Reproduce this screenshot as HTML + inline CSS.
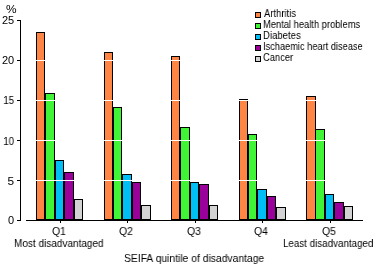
<!DOCTYPE html>
<html><head><meta charset="utf-8"><style>
html,body{margin:0;padding:0;background:#fff;width:378px;height:265px;overflow:hidden;position:relative}
div{position:absolute;box-sizing:border-box}
.b{border:1px solid #000}
.t{font-family:"Liberation Sans",sans-serif;font-size:11px;line-height:11px;color:#000;white-space:nowrap;transform-origin:0 0;will-change:transform}
.r{text-align:right}
</style></head><body>
<div class="b" style="left:36px;top:32px;width:9px;height:188px;background:#FF8545"></div><div class="b" style="left:45px;top:93px;width:10px;height:127px;background:#40F535"></div><div class="b" style="left:55px;top:160px;width:9px;height:60px;background:#00BFF5"></div><div class="b" style="left:64px;top:172px;width:10px;height:48px;background:#9A009A"></div><div class="b" style="left:74px;top:199px;width:9px;height:21px;background:#D3D3D3"></div><div class="b" style="left:104px;top:52px;width:9px;height:168px;background:#FF8545"></div><div class="b" style="left:113px;top:107px;width:9px;height:113px;background:#40F535"></div><div class="b" style="left:122px;top:174px;width:10px;height:46px;background:#00BFF5"></div><div class="b" style="left:132px;top:182px;width:9px;height:38px;background:#9A009A"></div><div class="b" style="left:141px;top:205px;width:10px;height:15px;background:#D3D3D3"></div><div class="b" style="left:171px;top:56px;width:9px;height:164px;background:#FF8545"></div><div class="b" style="left:180px;top:127px;width:10px;height:93px;background:#40F535"></div><div class="b" style="left:190px;top:182px;width:9px;height:38px;background:#00BFF5"></div><div class="b" style="left:199px;top:184px;width:10px;height:36px;background:#9A009A"></div><div class="b" style="left:209px;top:205px;width:9px;height:15px;background:#D3D3D3"></div><div class="b" style="left:239px;top:99px;width:9px;height:121px;background:#FF8545"></div><div class="b" style="left:248px;top:134px;width:9px;height:86px;background:#40F535"></div><div class="b" style="left:257px;top:189px;width:10px;height:31px;background:#00BFF5"></div><div class="b" style="left:267px;top:196px;width:9px;height:24px;background:#9A009A"></div><div class="b" style="left:276px;top:207px;width:10px;height:13px;background:#D3D3D3"></div><div class="b" style="left:306px;top:96px;width:10px;height:124px;background:#FF8545"></div><div class="b" style="left:315px;top:129px;width:10px;height:91px;background:#40F535"></div><div class="b" style="left:325px;top:194px;width:9px;height:26px;background:#00BFF5"></div><div class="b" style="left:334px;top:202px;width:10px;height:18px;background:#9A009A"></div><div class="b" style="left:344px;top:206px;width:9px;height:14px;background:#D3D3D3"></div><div style="left:21px;top:60px;width:342px;height:1px;background:#fff;"></div><div style="left:21px;top:100px;width:342px;height:1px;background:#fff;"></div><div style="left:21px;top:140px;width:342px;height:1px;background:#fff;"></div><div style="left:21px;top:180px;width:342px;height:1px;background:#fff;"></div><div style="left:20px;top:20px;width:1px;height:201px;background:#000;"></div><div style="left:17px;top:20px;width:3px;height:1px;background:#000;"></div><div style="left:17px;top:60px;width:3px;height:1px;background:#000;"></div><div style="left:17px;top:100px;width:3px;height:1px;background:#000;"></div><div style="left:17px;top:140px;width:3px;height:1px;background:#000;"></div><div style="left:17px;top:180px;width:3px;height:1px;background:#000;"></div><div style="left:17px;top:220px;width:3px;height:1px;background:#000;"></div><div style="left:26px;top:220px;width:337px;height:1px;background:#000;"></div><div style="left:60px;top:221px;width:1px;height:2px;background:#000;"></div><div style="left:127px;top:221px;width:1px;height:2px;background:#000;"></div><div style="left:195px;top:221px;width:1px;height:2px;background:#000;"></div><div style="left:262px;top:221px;width:1px;height:2px;background:#000;"></div><div style="left:330px;top:221px;width:1px;height:2px;background:#000;"></div><div class="b" style="left:255px;top:12px;width:6px;height:6px;background:#FF8545"></div><div class="b" style="left:255px;top:23px;width:6px;height:6px;background:#40F535"></div><div class="b" style="left:255px;top:34px;width:6px;height:6px;background:#00BFF5"></div><div class="b" style="left:255px;top:45px;width:6px;height:6px;background:#9A009A"></div><div class="b" style="left:255px;top:56px;width:6px;height:6px;background:#D3D3D3"></div>
<div class="t" style="left:264px;top:8px;transform:scaleX(0.86)">Arthritis</div><div class="t" style="left:263px;top:19px;transform:scaleX(0.85)">Mental health problems</div><div class="t" style="left:263px;top:30px;transform:scaleX(0.87)">Diabetes</div><div class="t" style="left:263px;top:41px;transform:scaleX(0.84)">Ischaemic heart disease</div><div class="t" style="left:263px;top:52px;transform:scaleX(0.85)">Cancer</div><div class="t r" style="right:364px;top:15px;transform-origin:100% 0;transform:scaleX(1)">25</div><div class="t r" style="right:364px;top:55px;transform-origin:100% 0;transform:scaleX(1)">20</div><div class="t r" style="right:364px;top:95px;transform-origin:100% 0;transform:scaleX(0.9)">15</div><div class="t r" style="right:364px;top:136px;transform-origin:100% 0;transform:scaleX(0.9)">10</div><div class="t r" style="right:364px;top:176px;transform-origin:100% 0;transform:scaleX(1.08)">5</div><div class="t r" style="right:364px;top:215px;transform-origin:100% 0;transform:scaleX(1)">0</div><div class="t" style="left:6px;top:4px;transform:scaleX(1.08)">%</div><div class="t" style="left:52px;top:226px;transform:scaleX(0.95)">Q1</div><div class="t" style="left:119px;top:226px;transform:scaleX(0.95)">Q2</div><div class="t" style="left:187px;top:226px;transform:scaleX(0.95)">Q3</div><div class="t" style="left:254px;top:226px;transform:scaleX(0.95)">Q4</div><div class="t" style="left:322px;top:226px;transform:scaleX(0.95)">Q5</div><div class="t" style="left:14px;top:238px;transform:scaleX(0.91)">Most disadvantaged</div><div class="t" style="left:283px;top:238px;transform:scaleX(0.89)">Least disadvantaged</div><div class="t" style="left:124px;top:253px;transform:scaleX(0.94)">SEIFA quintile of disadvantage</div>
</body></html>
